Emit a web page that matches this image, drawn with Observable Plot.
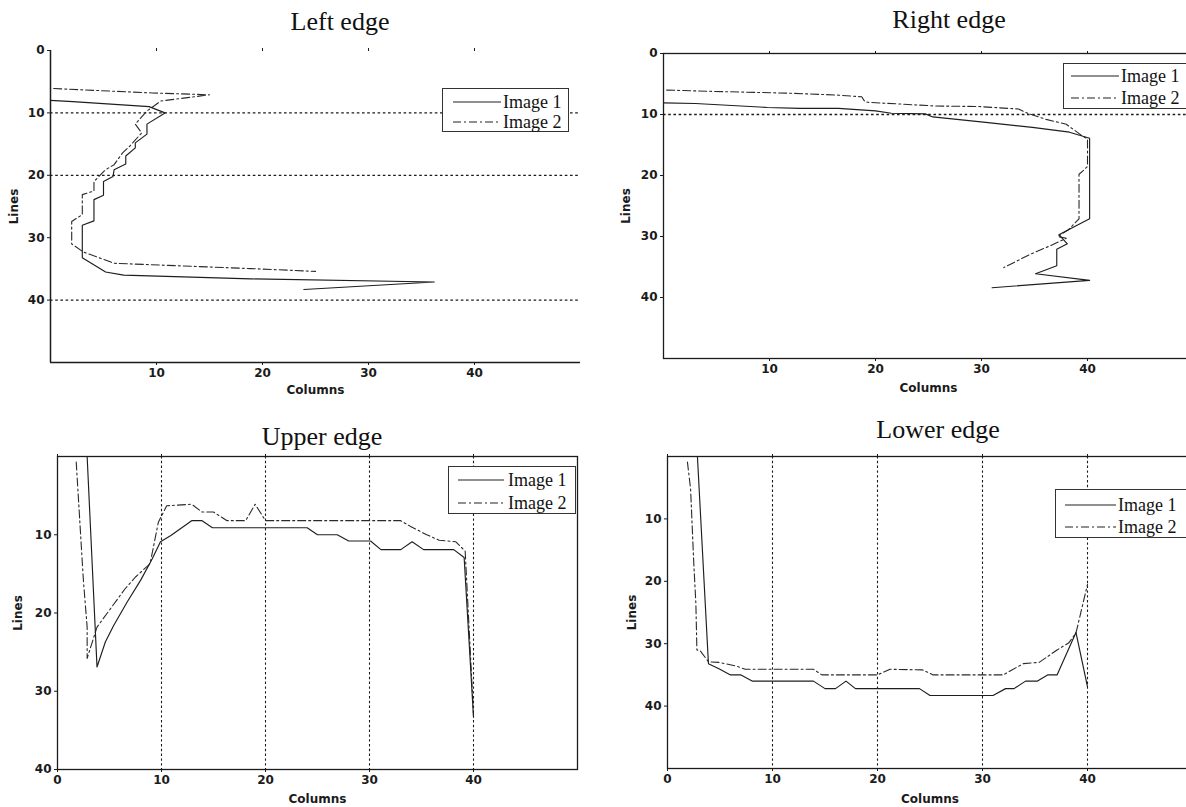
<!DOCTYPE html>
<html>
<head>
<meta charset="utf-8">
<script src="https://cdn.jsdelivr.net/npm/d3@7"></script>
<script src="https://cdn.jsdelivr.net/npm/@observablehq/plot@0.6"></script>
<style>
  html, body { margin: 0; padding: 0; background: #fff; }
  body { width: 1186px; height: 807px; overflow: hidden; position: relative; }
  .panel { position: absolute; }
  .panel svg { max-width: none !important; }
  .title { position: absolute; font-family: "Liberation Serif", "Times New Roman", serif; font-size: 26px; color: #111; transform: translate(-50%, -50%); white-space: nowrap; line-height: 1; }
  .legend { position: absolute; border: 1.3px solid #333; background: #fff; box-sizing: border-box; overflow: visible; }
  .legend .entry { position: absolute; font-family: "Liberation Serif", "Times New Roman", serif; font-size: 18px; color: #111; white-space: nowrap; line-height: 1; transform: translateY(-50%); }
  .legend svg { position: absolute; left: 0; top: 0; overflow: visible; }
</style>
</head>
<body>
<script>
// ---------- Data ----------
const seriesNames = ["Image 1", "Image 2"];
const panelTitles = ["Left edge", "Right edge", "Upper edge", "Lower edge"];
const xAxisLabel = "Columns";
const yAxisLabel = "Lines";

// Left edge
const leftLines1 = [8, 8.2, 9, 10, 11.8, 13.4, 14.8, 15.6, 16.9, 18.2, 19.1, 20.2, 21, 23.2, 23.9, 27.3, 28, 33.2, 35.5, 36, 36.6, 37.1, 38.3];
const leftCols1  = [0, 2.1, 9.3, 10.8, 9.1, 9.1, 8.0, 8.0, 7.1, 7.1, 6.0, 5.9, 5.0, 5.0, 4.1, 4.1, 3.0, 3.0, 5.2, 6.9, 18.9, 36.2, 23.9];
const leftLines2 = [6.1, 6.8, 7.1, 8.1, 9.7, 11.8, 13.2, 15.3, 16.4, 18.3, 19.1, 21, 22.5, 23.1, 26.3, 27.4, 31, 32.3, 34.1, 34.95, 35.4];
const leftCols2  = [0.3, 9.6, 15.0, 10.4, 9.1, 8.0, 8.6, 7.5, 6.8, 6.0, 5.2, 4.1, 4.1, 3.0, 3.0, 2.0, 2.0, 3.1, 6.0, 18.9, 25.0];
const leftGrid = [10, 20, 40];

// Right edge
const rightLines1 = [8.1, 8.2, 8.85, 9.0, 9.0, 9.4, 9.8, 9.9, 10.4, 11.3, 12.1, 12.9, 13.9, 27.1, 29.7, 31.2, 32.1, 34.8, 36.1, 37.2, 38.4];
const rightCols1  = [0, 3.0, 9.8, 12.9, 16.5, 20.0, 21.5, 24.7, 25.4, 30.4, 34.8, 38.3, 40.2, 40.2, 37.3, 38.1, 37.1, 37.1, 35.1, 40.2, 31.0];
const rightLines2 = [6.0, 6.2, 6.5, 6.8, 7.1, 7.9, 8.0, 8.3, 8.6, 8.7, 9.1, 9.9, 10.8, 11.6, 13.5, 14.0, 18.5, 19.2, 19.8, 27.1, 28.9, 30.0, 30.3, 31.5, 33.0, 35.1];
const rightCols2  = [0.3, 4.4, 11.7, 16.2, 18.7, 19.0, 19.3, 22.5, 25.6, 29.8, 33.5, 34.5, 36.1, 38.0, 39.5, 40.0, 40.0, 39.6, 39.2, 39.2, 38.2, 37.2, 38.0, 36.5, 34.5, 32.1];
const rightGrid = [10];

// Upper edge
const upperCols1  = [2.85, 3.8, 4.6, 5.4, 6.7, 8.0, 9.1, 9.9, 10.9, 12.9, 13.9, 14.9, 24.0, 25.0, 26.9, 28.0, 30.1, 31.1, 33.0, 34.1, 35.2, 38.1, 39.1, 40.0];
const upperLines1 = [0, 26.9, 23.7, 21.6, 18.6, 15.8, 13.1, 10.9, 10.1, 8.2, 8.2, 9.1, 9.1, 10, 10, 10.8, 10.8, 11.9, 11.9, 10.9, 11.9, 11.9, 12.9, 33.3];
const upperCols2  = [1.8, 2.4, 2.5, 2.85, 2.85, 3.8, 6.5, 7.5, 8.9, 9.7, 10.5, 12.9, 13.9, 15.0, 16.3, 18.1, 19.0, 20.0, 33.0, 33.9, 35.5, 36.7, 38.3, 39.2, 40.0];
const upperLines2 = [0.7, 13.9, 16.0, 21.8, 25.8, 21.8, 16.9, 15.4, 13.7, 8.4, 6.3, 6.1, 7.1, 7.1, 8.2, 8.2, 6.1, 8.2, 8.2, 8.9, 10.0, 10.7, 10.9, 12.1, 33.0];
const upperGrid = [10, 20, 30, 40];

// Lower edge
const lowerCols1  = [2.85, 3.9, 4.9, 6.0, 7.0, 8.1, 13.9, 15.0, 16.0, 17.0, 17.9, 24.0, 25.0, 31.0, 32.2, 33.0, 34.1, 35.2, 36.2, 37.1, 38.9, 40.0];
const lowerLines1 = [0, 33.2, 34.0, 35.0, 35.0, 36.0, 36.0, 37.2, 37.2, 36.0, 37.2, 37.2, 38.3, 38.3, 37.2, 37.2, 36.0, 36.0, 35.0, 35.0, 28.2, 36.9];
const lowerCols2  = [1.9, 2.2, 2.5, 2.7, 2.8, 3.1, 3.9, 4.9, 6.6, 7.4, 13.9, 14.7, 20.0, 21.2, 24.3, 25.3, 32.0, 32.8, 33.9, 35.4, 37.1, 38.2, 38.9, 40.0];
const lowerLines2 = [0.9, 5.2, 17.0, 23.5, 31.0, 31.1, 32.9, 33.0, 33.6, 34.1, 34.1, 35.0, 35.0, 34.1, 34.2, 35.0, 35.0, 34.2, 33.2, 33.0, 31.0, 29.9, 28.3, 20.5];
const lowerGrid = [10, 20, 30, 40];

// Tick values
const ticksLR_x = [10, 20, 30, 40];
const ticksLR_y = [0, 10, 20, 30, 40];
const ticksUL_x = [0, 10, 20, 30, 40];
const ticksUL_y = [10, 20, 30, 40];

// ---------- Drawing ----------
const INK = "#1b1b1b";

function makePanel(cfg) {
  const idx1 = d3.range(cfg.c1.length);
  const idx2 = d3.range(cfg.c2.length);
  const marks = [];
  if (cfg.gridAxis === "y") {
    marks.push(Plot.ruleY(cfg.grid, {stroke: INK, strokeWidth: 1.3, strokeDasharray: "2.6,2.6"}));
  } else {
    marks.push(Plot.ruleX(cfg.grid, {stroke: INK, strokeWidth: 1.1, strokeDasharray: "2.4,2.4"}));
  }
  if (cfg.frame) {
    marks.push(Plot.frame({stroke: INK, strokeWidth: 1.3}));
  } else {
    marks.push(Plot.ruleX([cfg.xDomain[0]], {stroke: INK, strokeWidth: 1.5}));
    marks.push(Plot.ruleY([cfg.yDomain[1]], {stroke: INK, strokeWidth: 1.5}));
  }
  // explicit axes
  marks.push(Plot.axisX(cfg.xTicks, {anchor: "bottom", tickSize: 3, tickPadding: 3, label: xAxisLabel, labelAnchor: "center", labelOffset: cfg.xLabelOffset, labelArrow: "none"}));
  marks.push(Plot.axisX(cfg.xTicks, {anchor: "top", tickSize: 3, tickFormat: () => "", label: null}));
  marks.push(Plot.axisY(cfg.yTicks, {anchor: "left", tickSize: 3, tickPadding: 3, label: yAxisLabel, labelAnchor: "center", labelOffset: cfg.yLabelOffset, labelArrow: "none"}));
  marks.push(Plot.line(idx2, {x: i => cfg.c2[i], y: i => cfg.l2[i], stroke: "#2a2a2a", strokeWidth: 1.1, strokeDasharray: "8,3,2,3", curve: "linear"}));
  marks.push(Plot.line(idx1, {x: i => cfg.c1[i], y: i => cfg.l1[i], stroke: "#1e1e1e", strokeWidth: 1.15, curve: "linear"}));

  const svg = Plot.plot({
    width: cfg.width,
    height: cfg.height,
    marginLeft: cfg.mL,
    marginRight: cfg.mR,
    marginTop: cfg.mT,
    marginBottom: cfg.mB,
    style: {fontFamily: "'DejaVu Sans', sans-serif", fontSize: "12px", fontWeight: "bold", color: INK, background: "transparent", overflow: "visible", maxWidth: "none"},
    x: {domain: cfg.xDomain},
    y: {domain: cfg.yDomain, reverse: true},
    marks
  });
  const div = document.createElement("div");
  div.className = "panel";
  div.style.left = cfg.left + "px";
  div.style.top = cfg.top + "px";
  div.style.width = cfg.width + "px";
  div.style.height = cfg.height + "px";
  div.appendChild(svg);
  document.body.appendChild(div);
}

function makeTitle(text, cx, cy) {
  const d = document.createElement("div");
  d.className = "title";
  d.textContent = text;
  d.style.left = cx + "px";
  d.style.top = cy + "px";
  document.body.appendChild(d);
}

function makeLegend(cfg) {
  const box = document.createElement("div");
  box.className = "legend";
  box.style.left = cfg.left + "px";
  box.style.top = cfg.top + "px";
  box.style.width = cfg.width + "px";
  box.style.height = cfg.height + "px";
  const ns = "http://www.w3.org/2000/svg";
  const svg = document.createElementNS(ns, "svg");
  svg.setAttribute("width", cfg.width);
  svg.setAttribute("height", cfg.height);
  const dashes = [null, "8,3,2,3"];
  seriesNames.forEach((name, k) => {
    const y = cfg.rowY[k];
    const ln = document.createElementNS(ns, "line");
    ln.setAttribute("x1", cfg.lineX0);
    ln.setAttribute("x2", cfg.lineX1);
    ln.setAttribute("y1", y);
    ln.setAttribute("y2", y);
    ln.setAttribute("stroke", "#222");
    ln.setAttribute("stroke-width", 1.1);
    if (dashes[k]) ln.setAttribute("stroke-dasharray", dashes[k]);
    svg.appendChild(ln);
    const t = document.createElement("div");
    t.className = "entry";
    t.textContent = name;
    t.style.left = cfg.textX + "px";
    t.style.top = y + "px";
    box.appendChild(t);
  });
  box.insertBefore(svg, box.firstChild);
  document.body.appendChild(box);
}

// Left edge: plot area x 50..580, y 50..362
makePanel({left: 0, top: 40, width: 590, height: 357, mL: 50, mR: 10, mT: 10, mB: 35,
  xDomain: [0, 50], yDomain: [0, 50], xTicks: ticksLR_x, yTicks: ticksLR_y,
  grid: leftGrid, gridAxis: "y", frame: false,
  c1: leftCols1, l1: leftLines1, c2: leftCols2, l2: leftLines2,
  xLabelOffset: 31, yLabelOffset: 41});
// Right edge: plot area x 663..1193, y 53..358
makePanel({left: 613, top: 43, width: 590, height: 350, mL: 50, mR: 10, mT: 10, mB: 35,
  xDomain: [0, 50], yDomain: [0, 50], xTicks: ticksLR_x, yTicks: ticksLR_y,
  grid: rightGrid, gridAxis: "y", frame: true,
  c1: rightCols1, l1: rightLines1, c2: rightCols2, l2: rightLines2,
  xLabelOffset: 33, yLabelOffset: 42});
// Upper edge: plot area x 57..577, y 456..769
makePanel({left: 0, top: 446, width: 587, height: 358, mL: 57, mR: 10, mT: 10, mB: 35,
  xDomain: [0, 50], yDomain: [0, 40], xTicks: ticksUL_x, yTicks: ticksUL_y,
  grid: upperGrid, gridAxis: "x", frame: true,
  c1: upperCols1, l1: upperLines1, c2: upperCols2, l2: upperLines2,
  xLabelOffset: 33, yLabelOffset: 44});
// Lower edge: plot area x 667..1192, y 456..768
makePanel({left: 617, top: 446, width: 585, height: 357, mL: 50, mR: 10, mT: 10, mB: 35,
  xDomain: [0, 50], yDomain: [0, 50], xTicks: ticksUL_x, yTicks: ticksUL_y,
  grid: lowerGrid, gridAxis: "x", frame: true,
  c1: lowerCols1, l1: lowerLines1, c2: lowerCols2, l2: lowerLines2,
  xLabelOffset: 34, yLabelOffset: 40});

makeTitle(panelTitles[0], 340, 22);
makeTitle(panelTitles[1], 949, 20);
makeTitle(panelTitles[2], 322, 437);
makeTitle(panelTitles[3], 938, 430);

makeLegend({left: 442, top: 88, width: 127, height: 44, lineX0: 10, lineX1: 58, textX: 60, rowY: [13, 33]});
makeLegend({left: 1063, top: 63, width: 160, height: 46, lineX0: 7, lineX1: 55, textX: 57, rowY: [12, 34]});
makeLegend({left: 448, top: 466, width: 128, height: 48, lineX0: 9, lineX1: 55, textX: 59, rowY: [13, 36]});
makeLegend({left: 1055, top: 489, width: 160, height: 49, lineX0: 9, lineX1: 60, textX: 62, rowY: [15, 37]});
</script>
</body>
</html>
